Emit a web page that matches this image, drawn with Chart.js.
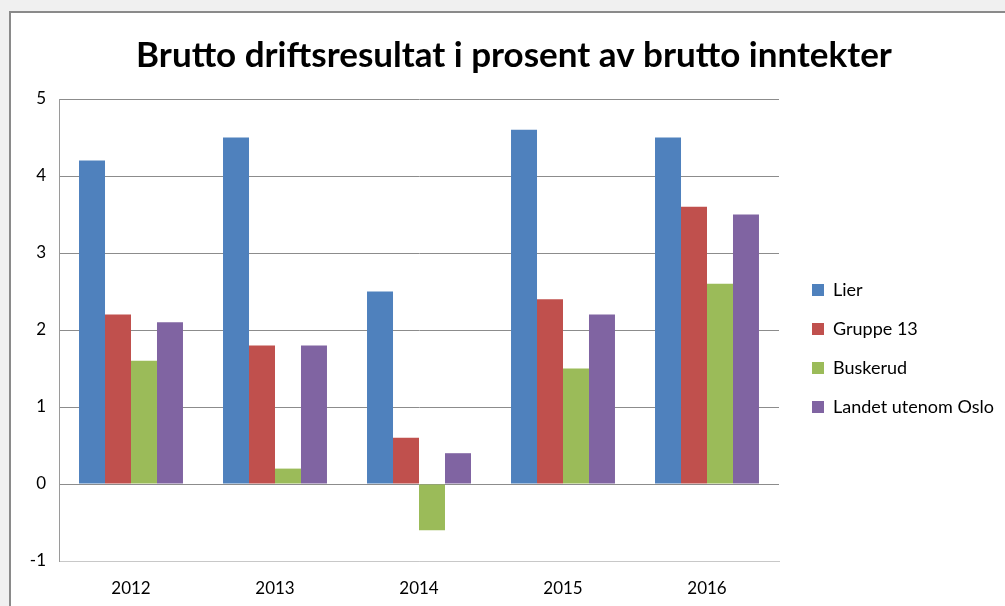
<!DOCTYPE html>
<html>
<head>
<meta charset="utf-8">
<script src="https://cdn.jsdelivr.net/npm/chart.js@4/dist/chart.umd.min.js"></script>
<style>
  html, body { margin: 0; padding: 0; background: #f0f0f0; overflow: hidden; }
  #frame {
    position: absolute; left: 9px; top: 11px;
    width: 1000px; height: 600px;
    border-left: 2px solid #8a8a8a; border-top: 2px solid #8a8a8a;
    background: #fff;
  }
  #chart { display: block; }
</style>
</head>
<body>
<div id="frame"><canvas id="chart" width="994" height="593"></canvas></div>
<script>
// chart data
const years = ['2012', '2013', '2014', '2015', '2016'];
const lier = [4.2, 4.5, 2.5, 4.6, 4.5];
const gruppe13 = [2.2, 1.8, 0.6, 2.4, 3.6];
const buskerud = [1.6, 0.2, -0.6, 1.5, 2.6];
const landetUtenomOslo = [2.1, 1.8, 0.4, 2.2, 3.5];

const FONT = 'Lato';
const LEGEND_SIZE = 18;
const LEGEND_PAD = 21;
const BOX = 12;
const PLOT_RIGHT = 778;   // target for right edge of plot area
const GAP = 12;           // extra space between plot and legend
const PLOT_LEFT = 48;     // canvas x of the value axis
const TITLE_SHIFT = 12;   // title sits a bit right of canvas centre

const makeSet = (label, data, color) => ({
  label, data,
  backgroundColor: color,
  borderWidth: 0,
  barPercentage: 1,
  categoryPercentage: 0.722
});

const build = () => {
  const canvas = document.getElementById('chart');
  const ctx = canvas.getContext('2d');

  // size legend so the plot area ends where the reference does
  ctx.font = `${LEGEND_SIZE}px ${FONT}`;
  const names = ['Lier', 'Gruppe 13', 'Buskerud', 'Landet utenom Oslo'];
  const textW = Math.max(...names.map(n => ctx.measureText(n).width));
  const legendW = LEGEND_PAD + BOX + LEGEND_SIZE / 2 + textW;
  const rightPad = Math.max(0, canvas.width - PLOT_RIGHT - GAP - legendW);
  const leftPad = rightPad + TITLE_SHIFT;

  new Chart(ctx, {
    type: 'bar',
    data: {
      labels: years,
      datasets: [
        makeSet(names[0], lier, '#4f81bd'),
        makeSet(names[1], gruppe13, '#c0504d'),
        makeSet(names[2], buskerud, '#9bbb59'),
        makeSet(names[3], landetUtenomOslo, '#8064a2')
      ]
    },
    options: {
      responsive: false,
      animation: false,
      layout: { padding: { right: rightPad, left: leftPad } },
      plugins: {
        title: {
          display: true,
          text: 'Brutto driftsresultat i prosent av brutto inntekter',
          color: '#000',
          font: { family: FONT, size: 35, weight: 'bold', lineHeight: 1.2 },
          padding: { top: 22, bottom: 22 }
        },
        legend: {
          position: 'right',
          maxWidth: 400,
          title: { display: true, text: ' ', font: { size: 10 }, padding: { top: 66, bottom: 0 } },
          labels: {
            color: '#000',
            font: { family: FONT, size: LEGEND_SIZE },
            boxWidth: BOX,
            boxHeight: BOX,
            padding: LEGEND_PAD
          }
        },
        tooltip: { enabled: false }
      },
      scales: {
        x: {
          grid: { display: false, drawTicks: false },
          border: { color: '#c8c8c8' },
          ticks: { color: '#000', font: { family: FONT, size: 17 }, padding: 17 },
          afterFit: (s) => { s.height = 45; }
        },
        y: {
          min: -1,
          max: 5,
          ticks: { stepSize: 1, color: '#000', font: { family: FONT, size: 17 }, padding: 13 },
          grid: {
            drawTicks: false,
            color: (c) => c.tick && c.tick.value === -1 ? '#c8c8c8' : '#8c8c8c'
          },
          border: { color: '#9a9a9a' },
          afterFit: (s) => { s.width = PLOT_LEFT - leftPad; }
        },
        gap: {
          type: 'linear',
          position: 'right',
          display: true,
          ticks: { display: false },
          grid: { display: false, drawTicks: false },
          border: { display: false },
          afterFit: (s) => { s.width = GAP; }
        }
      }
    }
  });
};

Promise.all([
  document.fonts.load(`bold 35px ${FONT}`),
  document.fonts.load(`${LEGEND_SIZE}px ${FONT}`),
  document.fonts.load(`17px ${FONT}`)
]).then(build, build);
</script>
</body>
</html>
